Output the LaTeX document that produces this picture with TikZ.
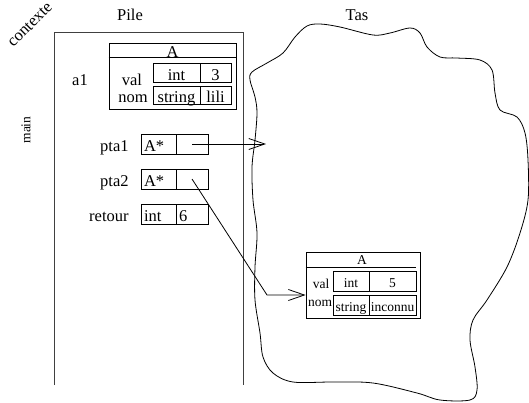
\documentclass[tikz,border=0pt]{standalone}
\usepackage{fontspec}
\setmainfont{Liberation Serif}
\usetikzlibrary{arrows.meta}
\newcommand\fmain{\fontsize{16.5}{19}\selectfont}
\newcommand\fheap{\fontsize{13.5}{16}\selectfont}
\begin{document}
\begin{tikzpicture}[x=1pt,y=-1pt, line width=0.8pt,
  cell/.style={draw, inner sep=0pt, font=\fmain, text height=15pt, text depth=0pt},
  lcell/.style={cell, inner xsep=3pt, text width=#1, align=left},
  hcell/.style={draw, inner sep=0pt, font=\fheap, text height=12pt, text depth=0pt},
  lbl/.style={font=\fmain, inner sep=0pt},
  hlbl/.style={font=\fheap, inner sep=0pt},
  barb/.style={-{Straight Barb[length=16pt,width=11pt]}}
]
\useasboundingbox (0,0) rectangle (529,402);

% titles
\node[lbl, rotate=45] (tcontexte) at (30,25) {contexte};
\node[lbl, rotate=90, font=\fheap] (tmain) at (26,130) {main};
\node[lbl, anchor=base] (tpile) at (130,20) {Pile};
\node[lbl, anchor=base] (ttas) at (357,20) {Tas};

% stack frame
\draw[line width=1pt, black!75] (54,385) -- (54,32) -- (243,32) -- (243,385);

% heap cloud
\draw plot[smooth cycle, tension=0.55] coordinates {
 (252,72) (267,63) (283,53) (295,37) (307,26) (320,24) (340,27) (373,35)
 (390,33) (410,28) (420,33) (427,47) (440,57) (457,58) (480,60) (492,70)
 (495,93) (500,110) (517,117) (525,133) (528,160) (528,200) (520,233)
 (507,267) (487,300) (473,320) (470,340) (475,367) (477,390) (470,400)
 (440,400) (417,393) (373,383) (333,382) (293,382) (273,373) (263,357)
 (260,333) (255,300) (255,267) (257,233) (253,200) (252,167) (255,140)
 (257,113) (255,97) (250,80)};

% struct a1
\node[draw, inner sep=0pt, minimum width=127, minimum height=66] (a1box) at (172.5,76) {};
\draw ([yshift=-15pt]a1box.north west) -- ([yshift=-15pt]a1box.north east);
\node[lbl, anchor=base] (a1A) at (172.5,57) {A};
\node[cell, minimum width=47, minimum height=19] (a1vt) at (176.5,72.5) {int};
\node[cell, minimum width=31, minimum height=19] (a1vv) at (215.5,72.5) {3};
\node[cell, minimum width=47, minimum height=18] (a1nt) at (176.5,95) {string};
\node[cell, minimum width=31, minimum height=18] (a1nv) at (215.5,95) {lili};
\node[lbl, anchor=base] (a1val) at (132,85) {val};
\node[lbl, anchor=base] (a1nom) at (133,102) {nom};
\node[lbl, anchor=base] (a1name) at (80,85) {a1};

% pointers
\node[lcell=29pt, minimum width=35, minimum height=20] (p1t) at (158.5,144) {A*};
\node[cell, minimum width=32, minimum height=20] (p1v) at (192,144) {};
\node[lcell=29pt, minimum width=35, minimum height=20] (p2t) at (158.5,179) {A*};
\node[cell, minimum width=32, minimum height=20] (p2v) at (192,179) {};
\node[lcell=29pt, minimum width=35, minimum height=20] (rt) at (158.5,214) {int};
\node[lcell=26pt, minimum width=32, minimum height=20] (rv) at (192,214) {6};
\node[lbl, anchor=base east] (lpta1) at (129,151) {pta1};
\node[lbl, anchor=base east] (lpta2) at (129,186) {pta2};
\node[lbl, anchor=base east] (lret) at (129,221) {retour};

% heap struct
\node[draw, inner sep=0pt, minimum width=114, minimum height=66] (hA) at (363,285) {};
\draw ([yshift=-16pt]hA.north west) -- ([xshift=-4pt,yshift=-16pt]hA.north east);
\node[hlbl, anchor=base] (hAt) at (362,264) {A};
\node[hcell, minimum width=36, minimum height=20] (hvt) at (351,281) {int};
\node[hcell, minimum width=47, minimum height=20] (hvv) at (392.5,281) {5};
\node[hcell, minimum width=36, minimum height=20] (hnt) at (351,305) {string};
\node[hcell, minimum width=47, minimum height=20] (hnv) at (392.5,305) {inconnu};
\node[hlbl, anchor=base] (hval) at (321,288) {val};
\node[hlbl, anchor=base] (hnom) at (320,306) {nom};

% arrows
\coordinate (heapin) at (266,144);
\draw[barb] (p1v.center) -- (heapin);
\coordinate (bend) at (267,295);
\draw[barb] (p2v.center) -- (bend) -- (bend -| hA.west);
\end{tikzpicture}
\end{document}
